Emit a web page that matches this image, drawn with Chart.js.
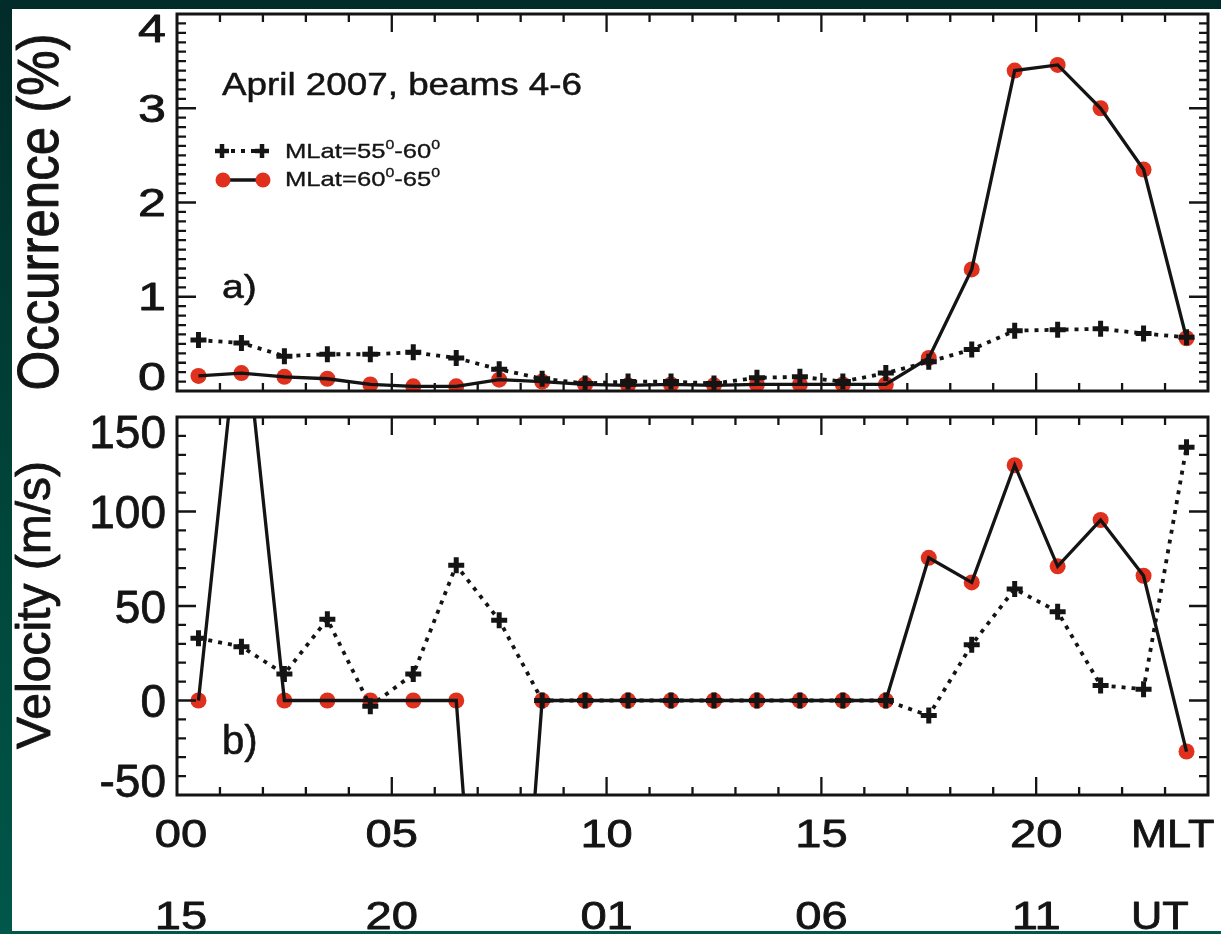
<!DOCTYPE html>
<html>
<head>
<meta charset="utf-8">
<title>Occurrence and velocity vs MLT</title>
<script src="https://cdn.jsdelivr.net/npm/chart.js@4.4.1/dist/chart.umd.min.js"></script>
<style>
  html, body { margin: 0; padding: 0; }
  body {
    width: 1221px; height: 934px; overflow: hidden; position: relative;
    background: linear-gradient(180deg, #012b29 0%, #004539 55%, #00574a 100%);
  }
  #sheet { position: absolute; left: 12px; top: 9px; width: 1209px; height: 922px; background: #fff; }
  canvas { position: absolute; left: 0; }
  #occ { top: 0; }
  #vel { top: 404px; }
</style>
</head>
<body>
<div id="sheet"></div>
<canvas id="occ" width="1221" height="404"></canvas>
<canvas id="vel" width="1221" height="530"></canvas>
<script>
// hourly bins, centred on the half hour (MLT)
const hours = [0.5, 1.5, 2.5, 3.5, 4.5, 5.5, 6.5, 7.5, 8.5, 9.5, 10.5, 11.5,
               12.5, 13.5, 14.5, 15.5, 16.5, 17.5, 18.5, 19.5, 20.5, 21.5, 22.5, 23.5];

// occurrence (%)
const occ55 = [0.54, 0.51, 0.37, 0.39, 0.39, 0.41, 0.35, 0.23, 0.13, 0.08, 0.10, 0.10,
               0.08, 0.14, 0.15, 0.10, 0.19, 0.31, 0.44, 0.64, 0.65, 0.66, 0.61, 0.57];
const occ60 = [0.16, 0.19, 0.15, 0.13, 0.07, 0.05, 0.05, 0.12, 0.10, 0.07, 0.06, 0.07,
               0.06, 0.07, 0.07, 0.07, 0.07, 0.35, 1.29, 3.40, 3.46, 3.00, 2.35, 0.56];

// velocity (m/s)
const vel55 = [33, 28.5, 14, 43, -3, 14, 71.5, 42.5, 0, 0, 0, 0,
               0, 0, 0, 0, 0, -8, 29.5, 59, 47, 8, 6, 134];
const vel60 = [0, 215, 0, 0, 0, 0, 0, -300, 0, 0, 0, 0,
               0, 0, 0, 0, 0, 75.5, 62.5, 124.5, 71, 95.5, 66, -27];

const occTicks = [0, 1, 2, 3, 4];
const velTicks = [-50, 0, 50, 100, 150];
const hourTicks = [0, 5, 10, 15, 20];
const mltLabels = ['00', '05', '10', '15', '20'];
const utLabels = ['15', '20', '01', '06', '11'];
// legend text, every second piece is a superscript
const legendRows = [['MLat=55', '0', '-60', '0'], ['MLat=60', '0', '-65', '0']];

const INK = '#141414';
const RED = '#e0301e';
const FONT = '"Liberation Sans", Arial, Helvetica, sans-serif';

const pts = ys => hours.map((h, i) => ({ x: h, y: ys[i] }));

// text helper: sx stretches horizontally, weight thickens the glyphs a bit
function txt(ctx, str, x, y, size, align = 'left', sx = 1, rot = 0, weight = 0) {
  ctx.save();
  ctx.translate(x, y);
  ctx.scale(sx, 1);
  if (rot) ctx.rotate(rot);
  ctx.font = size + 'px ' + FONT;
  ctx.textAlign = align;
  ctx.textBaseline = 'alphabetic';
  ctx.fillStyle = INK;
  ctx.fillText(str, 0, 0);
  if (weight) {
    ctx.strokeStyle = INK;
    ctx.lineWidth = weight;
    ctx.lineJoin = 'round';
    ctx.strokeText(str, 0, 0);
  }
  ctx.restore();
}

// text with raised small pieces (degree-like zeros)
function richTxt(ctx, parts, x, y, size, sx, weight) {
  let cx = x;
  parts.forEach((p, i) => {
    const sup = i % 2 === 1;
    const s = sup ? size * 0.62 : size;
    ctx.font = s + 'px ' + FONT;
    const w = ctx.measureText(p).width * sx;
    txt(ctx, p, cx, sup ? y - size * 0.42 : y, s, 'left', sx, 0, weight);
    cx += w;
  });
}

function framePlugin(cfg) {
  return {
    id: 'frame',
    afterDatasetsDraw(chart) {
      const { ctx, chartArea: a, scales: { x, y } } = chart;
      ctx.save();
      ctx.strokeStyle = INK;
      ctx.lineWidth = 2.3;
      ctx.beginPath();
      // hour ticks on bottom and top edges
      for (let h = 1; h < 24; h++) {
        const px = x.getPixelForValue(h);
        const len = h % 5 === 0 ? 18 : 8;
        ctx.moveTo(px, a.bottom); ctx.lineTo(px, a.bottom - len);
        ctx.moveTo(px, a.top); ctx.lineTo(px, a.top + len);
      }
      // value ticks on left and right edges
      const n = Math.round((cfg.max - cfg.min) / cfg.minor);
      for (let k = 1; k < n; k++) {
        const py = y.getPixelForValue(cfg.min + k * cfg.minor);
        const len = k % cfg.perMajor === 0 ? 19 : 9;
        ctx.moveTo(a.left, py); ctx.lineTo(a.left + len, py);
        ctx.moveTo(a.right, py); ctx.lineTo(a.right - len, py);
      }
      ctx.stroke();
      ctx.lineWidth = 3;
      ctx.strokeRect(a.left, a.top, a.right - a.left, a.bottom - a.top);
      ctx.restore();

      // value labels, end labels pulled inside the frame
      cfg.ticks.forEach(t => {
        let py = y.getPixelForValue(t);
        if (t === cfg.max) py += 14;
        if (t === cfg.min) py -= 15;
        txt(ctx, String(t), 166, py + cfg.tickSize * 0.36, cfg.tickSize, 'right', cfg.tickSx, 0, 0.8);
      });
      cfg.extra(chart);
    }
  };
}

function panel(id, cfg) {
  return new Chart(document.getElementById(id), {
    type: 'scatter',
    data: {
      datasets: [
        { data: pts(cfg.s55), showLine: true, borderColor: INK, borderWidth: 3.8,
          borderDash: [4, 6], pointStyle: 'cross', pointRadius: 8,
          pointBorderWidth: 5, pointBorderColor: INK },
        { data: pts(cfg.s60), showLine: true, borderColor: INK, borderWidth: 3.3,
          pointRadius: 0 },
        { data: pts(cfg.s60), showLine: false, pointStyle: 'circle', pointRadius: 8,
          pointBackgroundColor: RED, pointBorderWidth: 0 }
      ]
    },
    options: {
      responsive: false,
      animation: false,
      events: [],
      layout: { padding: cfg.pad },
      scales: {
        x: { type: 'linear', min: 0, max: 24, display: false },
        y: { type: 'linear', min: cfg.min, max: cfg.max, display: false }
      },
      plugins: { legend: { display: false }, tooltip: { enabled: false } }
    },
    plugins: [framePlugin(cfg)]
  });
}

panel('occ', {
  s55: occ55, s60: occ60,
  min: 0, max: 4, minor: 0.1, perMajor: 10, ticks: occTicks,
  tickSize: 38, tickSx: 1.32,
  pad: { left: 177, right: 6, top: 14, bottom: 9 },
  extra(chart) {
    const ctx = chart.ctx;
    txt(ctx, 'Occurrence (%)', 58, 212, 51, 'center', 1.12, -Math.PI / 2, 0.9);
    txt(ctx, 'April 2007, beams 4-6', 222, 95, 32, 'left', 1.15, 0, 0.5);
    txt(ctx, 'a)', 222, 298, 34, 'left', 1.15, 0, 0.6);

    // legend, drawn with the datasets' own styles
    const ds = chart.data.datasets;
    ctx.save();
    ctx.strokeStyle = INK;
    ctx.fillStyle = INK;
    ctx.lineWidth = ds[0].borderWidth;
    ctx.setLineDash(ds[0].borderDash);
    ctx.beginPath(); ctx.moveTo(231, 151); ctx.lineTo(255, 151); ctx.stroke();
    ctx.setLineDash([]);
    ctx.lineWidth = ds[1].borderWidth;
    ctx.beginPath(); ctx.moveTo(223, 180); ctx.lineTo(263, 180); ctx.stroke();
    ctx.lineWidth = 4.5;
    [222, 262].forEach(px => {
      Chart.helpers.drawPoint(ctx, { pointStyle: 'cross', radius: 7, borderWidth: 4.5 }, px, 151);
    });
    ctx.fillStyle = RED;
    [223, 263].forEach(px => {
      ctx.beginPath(); ctx.arc(px, 180, 7.5, 0, Math.PI * 2); ctx.fill();
    });
    ctx.restore();
    richTxt(ctx, legendRows[0], 285, 158, 21, 1.22, 0.35);
    richTxt(ctx, legendRows[1], 285, 186, 21, 1.22, 0.35);
  }
});

panel('vel', {
  s55: vel55, s60: vel60,
  min: -50, max: 150, minor: 10, perMajor: 5, ticks: velTicks,
  tickSize: 46, tickSx: 1.0,
  pad: { left: 177, right: 6, top: 9, bottom: 139 },
  extra(chart) {
    const ctx = chart.ctx;
    const x = chart.scales.x;
    txt(ctx, 'Velocity (m/s)', 50, 201, 48, 'center', 1.0, -Math.PI / 2, 0.9);
    txt(ctx, 'b)', 222, 350, 40, 'left', 1.0, 0, 0.6);
    hourTicks.forEach((h, i) => {
      const px = x.getPixelForValue(h) + (h === 0 ? 4 : 0);
      txt(ctx, mltLabels[i], px, 443, 38, 'center', 1.24, 0, 0.8);
      txt(ctx, utLabels[i], px, 525, 38, 'center', 1.24, 0, 0.8);
    });
    txt(ctx, 'MLT', 1131, 443, 38, 'left', 1.14, 0, 0.8);
    txt(ctx, 'UT', 1131, 525, 38, 'left', 1.14, 0, 0.8);
  }
});
</script>
</body>
</html>
